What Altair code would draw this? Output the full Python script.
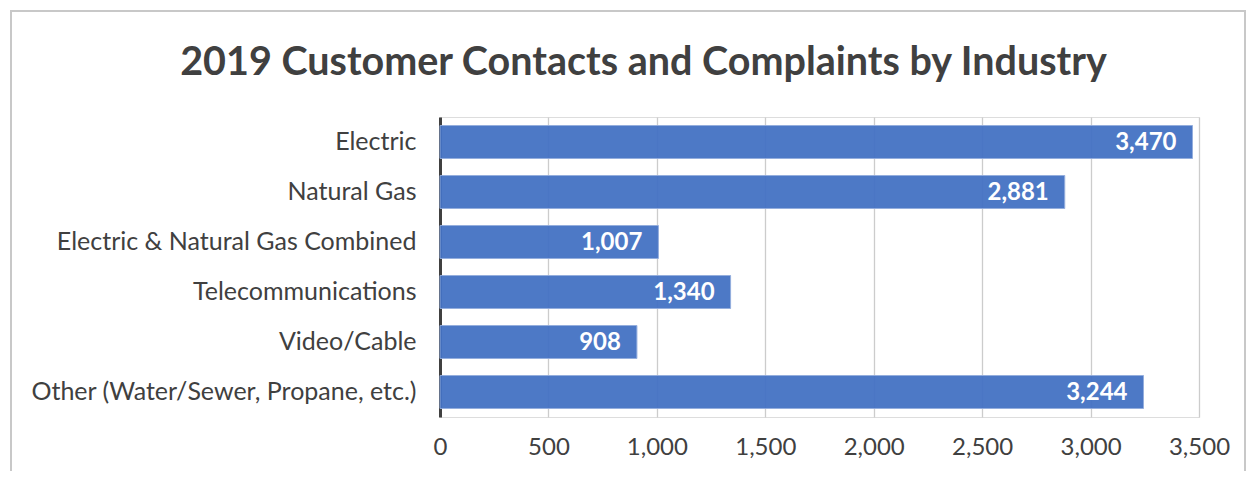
import altair as alt
import pandas as pd

industries = [
    "Electric",
    "Natural Gas",
    "Electric & Natural Gas Combined",
    "Telecommunications",
    "Video/Cable",
    "Other (Water/Sewer, Propane, etc.)",
]
counts = [3470, 2881, 1007, 1340, 908, 3244]
x_ticks = [0, 500, 1000, 1500, 2000, 2500, 3000, 3500]

df = pd.DataFrame({"industry": industries, "count": counts})

FONT = "Lato"

y_enc = alt.Y(
    "industry:N",
    sort=industries,
    title=None,
    scale=alt.Scale(paddingInner=0.34, paddingOuter=0.17),
    axis=alt.Axis(
        labelFontSize=25,
        labelColor="#404040",
        labelFont=FONT,
        labelLimit=420,
        labelPadding=24,
        ticks=False,
        domainColor="#404040",
        domainWidth=3,
        grid=False,
    ),
)

x_enc = alt.X(
    "count:Q",
    title=None,
    scale=alt.Scale(domain=[0, 3500], nice=False),
    axis=alt.Axis(
        values=x_ticks,
        format=",d",
        labelFontSize=24,
        labelColor="#404040",
        labelFont=FONT,
        labelPadding=18,
        labelFlush=False,
        labelOverlap=False,
        ticks=False,
        domain=False,
        grid=True,
        gridColor="#cccccc",
        gridWidth=1.3,
    ),
)

bars = alt.Chart(df).mark_bar(
    color="#4472C4", opacity=0.95, stroke="#8FAADC", strokeWidth=1
).encode(x=x_enc, y=y_enc)

labels = alt.Chart(df).mark_text(
    align="right", baseline="middle", dx=-16, dy=1,
    color="white", fontWeight="bold", fontSize=24, font=FONT
).encode(
    x=alt.X("count:Q"),
    y=alt.Y("industry:N", sort=industries),
    text=alt.Text("count:Q", format=",d"),
)

border = alt.Chart(pd.DataFrame({"a": [0]})).mark_rect(
    fill=None, stroke="#c8c8c8", strokeWidth=2
).encode(
    x=alt.value(-429), x2=alt.value(805), y=alt.value(-106), y2=alt.value(420)
)

chart = alt.layer(border, bars, labels).properties(
    width=759,
    height=300,
    autosize=alt.AutoSizeParams(type="none"),
    padding={"left": 432, "top": 109, "right": 47, "bottom": 54},
    title=alt.TitleParams(
        "2019 Customer Contacts and Complaints by Industry",
        font=FONT, fontSize=39.5, fontWeight="bold", color="#404040",
        anchor="middle", frame="group", dx=-176, offset=-104,
        baseline="alphabetic",
    ),
).configure_view(stroke=None).configure(background="white")

chart.save("out.html", embed_options={"renderer": "svg", "actions": False})
